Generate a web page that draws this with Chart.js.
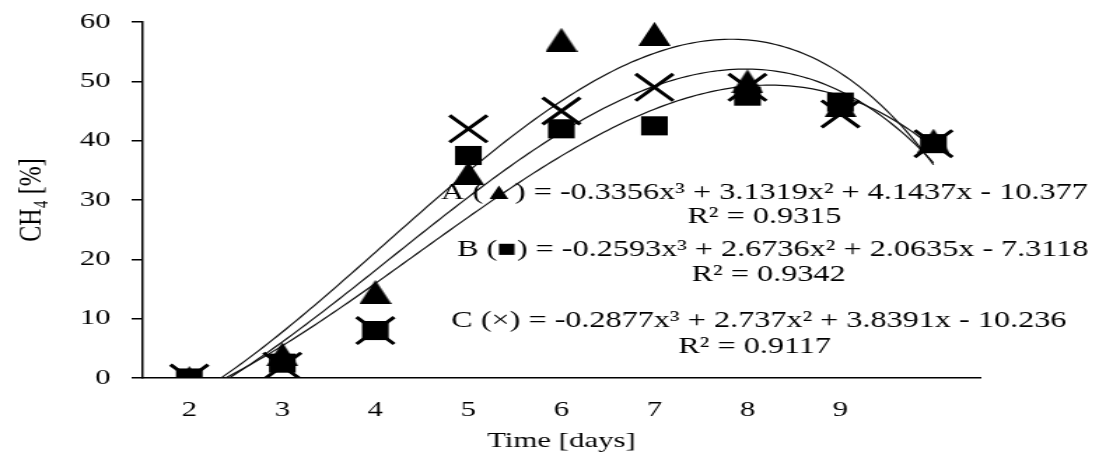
<!DOCTYPE html>
<html>
<head>
<meta charset="utf-8">
<title>CH4 content over time</title>
<script src="https://cdn.jsdelivr.net/npm/chart.js@4"></script>
<style>
  html, body { margin: 0; padding: 0; background: #fff; overflow: hidden; }
  /* the figure is drawn narrow and widened to fill the page */
  #wrap { width: 785px; height: 463px; transform: scaleX(1.4); transform-origin: 0 0; }
</style>
</head>
<body>
<div id="wrap"><canvas id="chart" width="785" height="463"></canvas></div>
<script>
// x positions (sample index) and the day shown under each one
const sampleIdx = [1, 2, 3, 4, 5, 6, 7, 8, 9];
const dayLabels = ['2', '3', '4', '5', '6', '7', '8', '9', ''];

// CH4 share [%] per reactor
const seriesA = [0, 4, 14.5, 34.5, 57, 58, 50, 46, 40];
const seriesB = [0, 2.5, 8, 37.5, 42, 42.5, 47.5, 46.5, 39.5];
const seriesC = [0, 2, 8, 42, 45, 49, 49, 44.5, 39.5];

// cubic trendline coefficients (x³, x², x, 1) and fit quality
const coefA = [-0.3356, 3.1319, 4.1437, -10.377];
const coefB = [-0.2593, 2.6736, 2.0635, -7.3118];
const coefC = [-0.2877, 2.737, 3.8391, -10.236];
const r2A = '0.9315', r2B = '0.9342', r2C = '0.9117';

const yTicks = [0, 10, 20, 30, 40, 50, 60];

function toPoints(values) {
    return sampleIdx.map((x, i) => ({ x: x, y: values[i] }));
}

// evaluate a trendline along the fitted range
function trendPoints(c) {
    const pts = [];
    for (let k = 0; k <= 160; k++) {
        const x = sampleIdx[0] + k * (sampleIdx[sampleIdx.length - 1] - sampleIdx[0]) / 160;
        pts.push({ x: x, y: ((c[0] * x + c[1]) * x + c[2]) * x + c[3] });
    }
    return pts;
}

function eqText(name, mark, c) {
    const sign = c[3] < 0 ? ' - ' : ' + ';
    return name + ' (' + mark + ') = ' + c[0] + 'x³ + ' + c[1] + 'x² + ' + c[2] + 'x' + sign + Math.abs(c[3]);
}

function triangleMarker(w, h) {
    const c = document.createElement('canvas');
    c.width = w; c.height = h;
    const g = c.getContext('2d');
    g.fillStyle = '#000';
    g.beginPath();
    g.moveTo(w / 2, 0);
    g.lineTo(w, h);
    g.lineTo(0, h);
    g.closePath();
    g.fill();
    return c;
}

const serif = '"Liberation Serif", "Times New Roman", serif';
Chart.defaults.font.family = serif;
Chart.defaults.font.size = 22;
Chart.defaults.color = '#000';

// trendline equations written over the plot
const equationLabels = {
    id: 'equationLabels',
    afterDatasetsDraw(chart) {
        const ctx = chart.ctx;
        const lines = [
            [eqText('A', '▲', coefA), 546, 193],
            ['R² = ' + r2A, 546, 217],
            [eqText('B', '■', coefB), 552, 250],
            ['R² = ' + r2B, 549, 275],
            [eqText('C', '×', coefC), 542, 321],
            ['R² = ' + r2C, 539, 347]
        ];
        ctx.save();
        ctx.font = '23px ' + serif;
        ctx.fillStyle = '#000';
        ctx.textAlign = 'center';
        ctx.textBaseline = 'middle';
        lines.forEach(l => ctx.fillText(l[0], l[1], l[2]));
        ctx.restore();
    }
};

new Chart(document.getElementById('chart'), {
    type: 'scatter',
    data: {
        datasets: [
            {
                label: 'A', data: toPoints(seriesA), showLine: false,
                pointStyle: triangleMarker(23, 24), backgroundColor: '#000', borderColor: '#000'
            },
            {
                label: 'B', data: toPoints(seriesB), showLine: false,
                pointStyle: 'rect', pointRadius: 13.5, backgroundColor: '#000', borderColor: '#000', borderWidth: 0
            },
            {
                label: 'C', data: toPoints(seriesC), showLine: false,
                pointStyle: 'crossRot', pointRadius: 19, borderColor: '#000', borderWidth: 3
            },
            { label: 'A fit', data: trendPoints(coefA), showLine: true, pointRadius: 0, borderColor: '#111', borderWidth: 1.2 },
            { label: 'B fit', data: trendPoints(coefB), showLine: true, pointRadius: 0, borderColor: '#111', borderWidth: 1.2 },
            { label: 'C fit', data: trendPoints(coefC), showLine: true, pointRadius: 0, borderColor: '#111', borderWidth: 1.2 }
        ]
    },
    options: {
        responsive: false,
        animation: false,
        layout: { padding: { top: 16, right: 85, bottom: 0, left: 0 } },
        plugins: { legend: { display: false }, tooltip: { enabled: false } },
        scales: {
            x: {
                type: 'linear',
                min: 0.5,
                max: 9.5,
                afterBuildTicks: s => { s.ticks = sampleIdx.map(v => ({ value: v })); },
                afterFit: s => { s.height = 85; s.paddingLeft = 0; s.paddingRight = 0; },
                ticks: {
                    autoSkip: false, maxRotation: 0, padding: 19,
                    callback: v => dayLabels[sampleIdx.indexOf(v)]
                },
                grid: { display: false, drawTicks: false },
                border: { color: '#000', width: 1.5 },
                title: { display: true, text: 'Time [days]', padding: { top: 0, bottom: 9 } }
            },
            y: {
                min: 0,
                max: 60,
                afterBuildTicks: s => { s.ticks = yTicks.map(v => ({ value: v })); },
                afterFit: s => { s.width = 102; s.paddingTop = 0; s.paddingBottom = 0; },
                ticks: { padding: 15 },
                grid: { drawOnChartArea: false, tickLength: 8, color: '#000', lineWidth: 1.5 },
                border: { color: '#000', width: 1.5 },
                title: { display: true, text: 'CH₄ [%]', font: { size: 24 }, padding: { top: 8, bottom: 4 } }
            }
        }
    },
    plugins: [equationLabels]
});
</script>
</body>
</html>
